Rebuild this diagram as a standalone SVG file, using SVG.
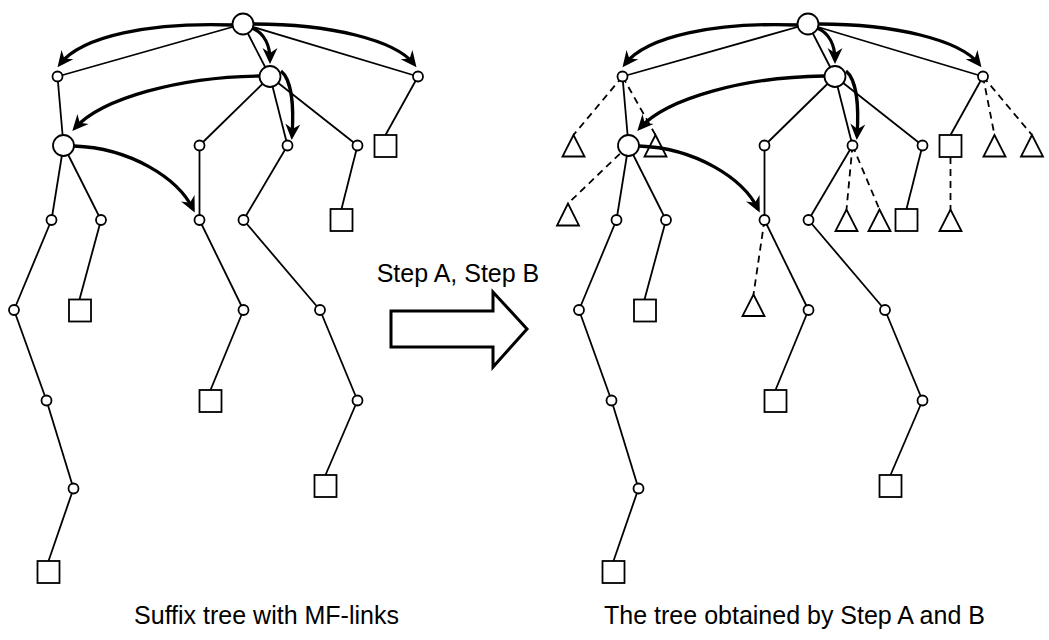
<svg xmlns="http://www.w3.org/2000/svg" xmlns:xlink="http://www.w3.org/1999/xlink" width="1049" height="640" viewBox="0 0 1049 640">
  <style>
    .edge { stroke: #000; stroke-width: 1.8; fill: none; }
    .dash { stroke: #000; stroke-width: 1.8; fill: none; stroke-dasharray: 7 5; }
    .link { stroke: #000; stroke-width: 3.3; fill: none; marker-end: url(#head); }
    .node circle, .node rect, .node polygon { fill: #fff; stroke: #000; stroke-width: 1.8; }
    .label { font-family: "Liberation Sans", Arial, sans-serif; font-size: 25px; fill: #000; }
    .big-arrow { fill: #fff; stroke: #000; stroke-width: 3; stroke-linejoin: miter; }
  </style>
  <defs>
    <!-- barbed head for the MF-links -->
    <marker id="head" markerUnits="userSpaceOnUse" markerWidth="18" markerHeight="16" refX="12" refY="8" orient="auto" overflow="visible">
      <path d="M16,8 L0,0.5 L5,8 L0,15.5 Z" fill="#000"/>
    </marker>
  </defs>
  <rect width="1049" height="640" fill="#fff"/>

  <!-- ============ left: suffix tree with MF-links ============ -->
  <g id="left-tree">
    <g id="left-edges">
      <line class="edge" x1="243" y1="24" x2="57.5" y2="76.5"/>
      <line class="edge" x1="243" y1="24" x2="270" y2="76.5"/>
      <line class="edge" x1="243" y1="24" x2="418" y2="76.5"/>
      <line class="edge" x1="57.5" y1="76.5" x2="63.5" y2="145.5"/>
      <line class="edge" x1="270" y1="76.5" x2="199.5" y2="145.5"/>
      <line class="edge" x1="270" y1="76.5" x2="287.5" y2="145.5"/>
      <line class="edge" x1="270" y1="76.5" x2="357.5" y2="145.5"/>
      <line class="edge" x1="418" y1="76.5" x2="385.5" y2="135"/>
      <line class="edge" x1="63.5" y1="145.5" x2="51.5" y2="220"/>
      <line class="edge" x1="63.5" y1="145.5" x2="101" y2="220"/>
      <line class="edge" x1="199.5" y1="145.5" x2="199.5" y2="220"/>
      <line class="edge" x1="287.5" y1="145.5" x2="243.5" y2="220"/>
      <line class="edge" x1="357.5" y1="145.5" x2="341.5" y2="209"/>
      <line class="edge" x1="51.5" y1="220" x2="14" y2="310"/>
      <line class="edge" x1="101" y1="220" x2="79.5" y2="299.5"/>
      <line class="edge" x1="199.5" y1="220" x2="243.5" y2="310"/>
      <line class="edge" x1="243.5" y1="220" x2="320" y2="310"/>
      <line class="edge" x1="14" y1="310" x2="46.5" y2="400.5"/>
      <line class="edge" x1="243.5" y1="310" x2="210.5" y2="390"/>
      <line class="edge" x1="320" y1="310" x2="357.5" y2="400.5"/>
      <line class="edge" x1="46.5" y1="400.5" x2="73.5" y2="488.5"/>
      <line class="edge" x1="357.5" y1="400.5" x2="325.5" y2="475"/>
      <line class="edge" x1="73.5" y1="488.5" x2="48.5" y2="561"/>
    </g>
    <g id="l-root" class="node"><circle cx="243" cy="24" r="10.5"/></g>
    <g id="l-a" class="node"><circle cx="57.5" cy="76.5" r="5"/></g>
    <g id="l-b" class="node"><circle cx="270" cy="76.5" r="10.5"/></g>
    <g id="l-c" class="node"><circle cx="418" cy="76.5" r="5"/></g>
    <g id="l-d" class="node"><circle cx="63.5" cy="145.5" r="10.5"/></g>
    <g id="l-e" class="node"><circle cx="199.5" cy="145.5" r="5"/></g>
    <g id="l-f" class="node"><circle cx="287.5" cy="145.5" r="5"/></g>
    <g id="l-g" class="node"><circle cx="357.5" cy="145.5" r="5"/></g>
    <g id="l-h" class="node"><circle cx="51.5" cy="220" r="5"/></g>
    <g id="l-i" class="node"><circle cx="101" cy="220" r="5"/></g>
    <g id="l-j" class="node"><circle cx="199.5" cy="220" r="5"/></g>
    <g id="l-k" class="node"><circle cx="243.5" cy="220" r="5"/></g>
    <g id="l-l" class="node"><circle cx="14" cy="310" r="5"/></g>
    <g id="l-m" class="node"><circle cx="243.5" cy="310" r="5"/></g>
    <g id="l-n" class="node"><circle cx="320" cy="310" r="5"/></g>
    <g id="l-o" class="node"><circle cx="46.5" cy="400.5" r="5"/></g>
    <g id="l-p" class="node"><circle cx="357.5" cy="400.5" r="5"/></g>
    <g id="l-q" class="node"><circle cx="73.5" cy="488.5" r="5"/></g>
    <g id="l-leaf1" class="node"><rect x="374.5" y="135" width="22" height="22"/></g>
    <g id="l-leaf2" class="node"><rect x="330.5" y="209" width="22" height="22"/></g>
    <g id="l-leaf3" class="node"><rect x="69" y="299.5" width="22" height="22"/></g>
    <g id="l-leaf4" class="node"><rect x="199.5" y="390" width="22" height="22"/></g>
    <g id="l-leaf5" class="node"><rect x="37.5" y="561" width="22" height="22"/></g>
    <g id="l-leaf6" class="node"><rect x="314.5" y="475" width="22" height="22"/></g>
    <g id="left-links">
      <path class="link" d="M233,25 C150,22 82,36 60,64"/>
      <path class="link" d="M254,24 C330,24 395,40 414,64"/>
      <path class="link" d="M252,28 C264,33 270,45 270,60"/>
      <path class="link" d="M259,76 C180,77 102,98 75,128"/>
      <path class="link" d="M281,71 C292,80 294,108 292,136"/>
      <path class="link" d="M74,146 C130,148 178,178 193,209"/>
    </g>
  </g>

  <!-- ============ transition arrow ============ -->
  <g id="step-arrow">
    <text class="label" x="458" y="282" text-anchor="middle">Step A, Step B</text>
    <polygon class="big-arrow" points="391,311 493,311 493,292 527,329 493,367 493,347 391,347"/>
  </g>

  <!-- ============ right: tree after Step A and B ============ -->
  <g id="right-tree" transform="translate(565,0)">
    <g id="right-edges">
      <line class="edge" x1="243" y1="24" x2="57.5" y2="76.5"/>
      <line class="edge" x1="243" y1="24" x2="270" y2="76.5"/>
      <line class="edge" x1="243" y1="24" x2="418" y2="76.5"/>
      <line class="edge" x1="57.5" y1="76.5" x2="63.5" y2="145.5"/>
      <line class="edge" x1="270" y1="76.5" x2="199.5" y2="145.5"/>
      <line class="edge" x1="270" y1="76.5" x2="287.5" y2="145.5"/>
      <line class="edge" x1="270" y1="76.5" x2="357.5" y2="145.5"/>
      <line class="edge" x1="418" y1="76.5" x2="385.5" y2="135"/>
      <line class="edge" x1="63.5" y1="145.5" x2="51.5" y2="220"/>
      <line class="edge" x1="63.5" y1="145.5" x2="101" y2="220"/>
      <line class="edge" x1="199.5" y1="145.5" x2="199.5" y2="220"/>
      <line class="edge" x1="287.5" y1="145.5" x2="243.5" y2="220"/>
      <line class="edge" x1="357.5" y1="145.5" x2="341.5" y2="209"/>
      <line class="edge" x1="51.5" y1="220" x2="14" y2="310"/>
      <line class="edge" x1="101" y1="220" x2="79.5" y2="299.5"/>
      <line class="edge" x1="199.5" y1="220" x2="243.5" y2="310"/>
      <line class="edge" x1="243.5" y1="220" x2="320" y2="310"/>
      <line class="edge" x1="14" y1="310" x2="46.5" y2="400.5"/>
      <line class="edge" x1="243.5" y1="310" x2="210.5" y2="390"/>
      <line class="edge" x1="320" y1="310" x2="357.5" y2="400.5"/>
      <line class="edge" x1="46.5" y1="400.5" x2="73.5" y2="488.5"/>
      <line class="edge" x1="357.5" y1="400.5" x2="325.5" y2="475"/>
      <line class="edge" x1="73.5" y1="488.5" x2="48.5" y2="561"/>
      <!-- added (dashed) branches -->
      <line class="dash" x1="57.5" y1="76.5" x2="8.5" y2="135"/>
      <line class="dash" x1="57.5" y1="76.5" x2="90.5" y2="135"/>
      <line class="dash" x1="63.5" y1="145.5" x2="3" y2="203.5"/>
      <line class="dash" x1="287.5" y1="145.5" x2="281.5" y2="209.5"/>
      <line class="dash" x1="287.5" y1="145.5" x2="314.5" y2="209.5"/>
      <line class="dash" x1="418" y1="76.5" x2="429.5" y2="135"/>
      <line class="dash" x1="418" y1="76.5" x2="467" y2="135"/>
      <line class="dash" x1="385.5" y1="157" x2="385.5" y2="209.5"/>
      <line class="dash" x1="199.5" y1="220" x2="188.5" y2="294.5"/>
    </g>
    <g id="r-root" class="node"><circle cx="243" cy="24" r="10.5"/></g>
    <g id="r-a" class="node"><circle cx="57.5" cy="76.5" r="5"/></g>
    <g id="r-b" class="node"><circle cx="270" cy="76.5" r="10.5"/></g>
    <g id="r-c" class="node"><circle cx="418" cy="76.5" r="5"/></g>
    <g id="r-d" class="node"><circle cx="63.5" cy="145.5" r="10.5"/></g>
    <g id="r-e" class="node"><circle cx="199.5" cy="145.5" r="5"/></g>
    <g id="r-f" class="node"><circle cx="287.5" cy="145.5" r="5"/></g>
    <g id="r-g" class="node"><circle cx="357.5" cy="145.5" r="5"/></g>
    <g id="r-h" class="node"><circle cx="51.5" cy="220" r="5"/></g>
    <g id="r-i" class="node"><circle cx="101" cy="220" r="5"/></g>
    <g id="r-j" class="node"><circle cx="199.5" cy="220" r="5"/></g>
    <g id="r-k" class="node"><circle cx="243.5" cy="220" r="5"/></g>
    <g id="r-l" class="node"><circle cx="14" cy="310" r="5"/></g>
    <g id="r-m" class="node"><circle cx="243.5" cy="310" r="5"/></g>
    <g id="r-n" class="node"><circle cx="320" cy="310" r="5"/></g>
    <g id="r-o" class="node"><circle cx="46.5" cy="400.5" r="5"/></g>
    <g id="r-p" class="node"><circle cx="357.5" cy="400.5" r="5"/></g>
    <g id="r-q" class="node"><circle cx="73.5" cy="488.5" r="5"/></g>
    <g id="r-leaf1" class="node"><rect x="374.5" y="135" width="22" height="22"/></g>
    <g id="r-leaf2" class="node"><rect x="330.5" y="209" width="22" height="22"/></g>
    <g id="r-leaf3" class="node"><rect x="69" y="299.5" width="22" height="22"/></g>
    <g id="r-leaf4" class="node"><rect x="199.5" y="390" width="22" height="22"/></g>
    <g id="r-leaf5" class="node"><rect x="37.5" y="561" width="22" height="22"/></g>
    <g id="r-leaf6" class="node"><rect x="314.5" y="475" width="22" height="22"/></g>
    <!-- triangles: apex at the end of each dashed branch -->
    <g id="r-tri1" class="node"><polygon points="8.5,135 -2.5,156.5 19.5,156.5"/></g>
    <g id="r-tri2" class="node"><polygon points="90.5,135 79.5,156.5 101.5,156.5"/></g>
    <g id="r-tri3" class="node"><polygon points="429.5,135 418.5,156.5 440.5,156.5"/></g>
    <g id="r-tri4" class="node"><polygon points="467,135 456,156.5 478,156.5"/></g>
    <g id="r-tri5" class="node"><polygon points="3,203.5 -8,225.5 14,225.5"/></g>
    <g id="r-tri6" class="node"><polygon points="281.5,209.5 270.5,231 292.5,231"/></g>
    <g id="r-tri7" class="node"><polygon points="314.5,209.5 303.5,231 325.5,231"/></g>
    <g id="r-tri8" class="node"><polygon points="385.5,209.5 374.5,231 396.5,231"/></g>
    <g id="r-tri9" class="node"><polygon points="188.5,294.5 177.5,316 199.5,316"/></g>
    <g id="right-links">
      <path class="link" d="M233,25 C150,22 82,36 60,64"/>
      <path class="link" d="M254,24 C330,24 395,40 414,64"/>
      <path class="link" d="M252,28 C264,33 270,45 270,60"/>
      <path class="link" d="M259,76 C180,77 102,98 75,128"/>
      <path class="link" d="M281,71 C292,80 294,108 292,136"/>
      <path class="link" d="M74,146 C130,148 178,178 193,209"/>
    </g>
  </g>

  <!-- captions -->
  <text class="label" x="266.5" y="624" text-anchor="middle">Suffix tree with MF-links</text>
  <text class="label" x="794.5" y="624" text-anchor="middle">The tree obtained by Step A and B</text>
</svg>
